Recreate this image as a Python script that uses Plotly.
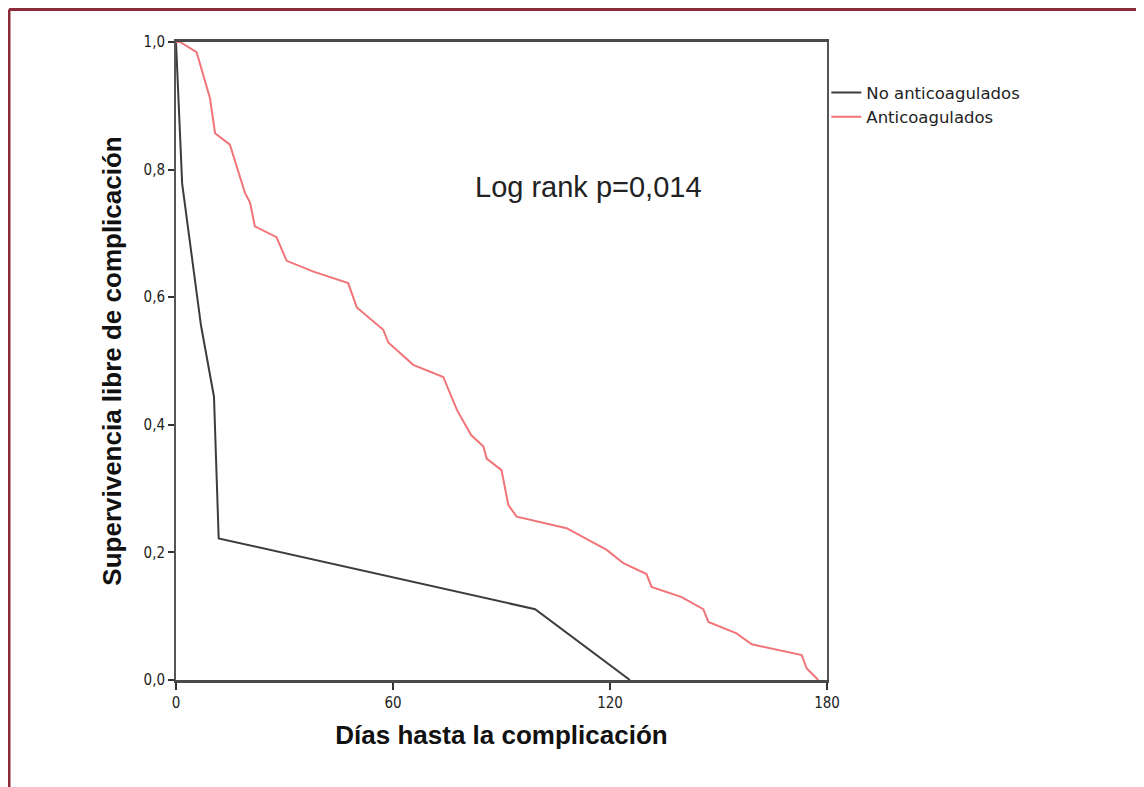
import plotly.graph_objects as go

# Kaplan-Meier style curves (days, survival)
no_anti_days = [0, 1.7, 6.9, 10.5, 11.8, 99.3, 125.5]
no_anti_surv = [1.0, 0.778, 0.556, 0.444, 0.222, 0.111, 0.0]

anti_days = [0, 1.1, 5.7, 9.4, 10.8, 14.9, 19.1, 20.5, 21.8, 27.8, 30.6, 38.0, 47.6,
             50.0, 57.3, 58.7, 61.1, 65.6, 73.9, 77.7, 81.6, 85.0, 85.9, 90.0, 91.9,
             94.2, 108.0, 119.1, 123.7, 130.1, 131.5, 139.8, 145.8, 147.2, 155.0,
             159.2, 173.0, 174.4, 177.6]
anti_surv = [1.0, 1.0, 0.984, 0.912, 0.857, 0.839, 0.763, 0.748, 0.711, 0.694, 0.657,
             0.640, 0.622, 0.584, 0.549, 0.529, 0.517, 0.494, 0.475, 0.423, 0.384,
             0.366, 0.347, 0.329, 0.274, 0.256, 0.238, 0.204, 0.183, 0.166, 0.146,
             0.130, 0.111, 0.091, 0.073, 0.056, 0.039, 0.018, 0.0]

series_names = ["No anticoagulados", "Anticoagulados"]
x_ticks = [0, 60, 120, 180]
y_ticks = [0.0, 0.2, 0.4, 0.6, 0.8, 1.0]
annotation_text = "Log rank p=0,014"

fig = go.Figure()
fig.add_trace(go.Scatter(x=no_anti_days, y=no_anti_surv, mode="lines",
                         name=series_names[0],
                         line=dict(color="#3c3c3c", width=2)))
fig.add_trace(go.Scatter(x=anti_days, y=anti_surv, mode="lines",
                         name=series_names[1],
                         line=dict(color="#f07478", width=2)))

fig.add_annotation(x=114, y=0.773, xref="x", yref="y", text=annotation_text,
                   showarrow=False, font=dict(family="Liberation Sans", size=29, color="#222"))

border = "#8e2b3b"
fig.add_shape(type="line", xref="paper", yref="paper", x0=-0.2565, x1=1.49,
              y0=1.0509, y1=1.0509, line=dict(color=border, width=3))
fig.add_shape(type="line", xref="paper", yref="paper", x0=-0.2565, x1=-0.2565,
              y0=-0.2, y1=1.0509, line=dict(color=border, width=3))

tickfont = dict(family="DejaVu Sans Condensed, Liberation Sans", size=15, color="#222")
fig.update_xaxes(range=[0, 180], tickvals=x_ticks, ticks="outside", ticklen=7,
                 tickwidth=2, tickcolor="#333", showgrid=False, zeroline=False,
                 showline=True, linecolor="#4a4a4a", linewidth=2.5, mirror=True,
                 tickfont=tickfont,
                 title=dict(text="Días hasta la complicación", standoff=16,
                            font=dict(family="Liberation Sans", size=26, color="#111",
                                      weight="bold")))
fig.update_yaxes(range=[0, 1.0], tickvals=y_ticks, tickformat=".1f", ticks="outside",
                 ticklen=6, tickwidth=2, tickcolor="#333", showgrid=False,
                 zeroline=False, showline=True, linecolor="#555", linewidth=2,
                 mirror=True, tickfont=tickfont,
                 title=dict(text="Supervivencia libre de complicación", standoff=14,
                            font=dict(family="Liberation Sans", size=26, color="#111",
                                      weight="bold")))

fig.update_layout(
    width=1136, height=779,
    margin=dict(l=168, r=317, t=34, b=107),
    paper_bgcolor="white", plot_bgcolor="white",
    separators=",.",
    showlegend=True,
    legend=dict(x=0.999, y=0.948, xanchor="left", yanchor="top",
                font=dict(family="DejaVu Sans", size=16.5, color="#222"),
                bgcolor="rgba(0,0,0,0)", itemwidth=30, tracegroupgap=0),
)

fig.write_html("out.html")
